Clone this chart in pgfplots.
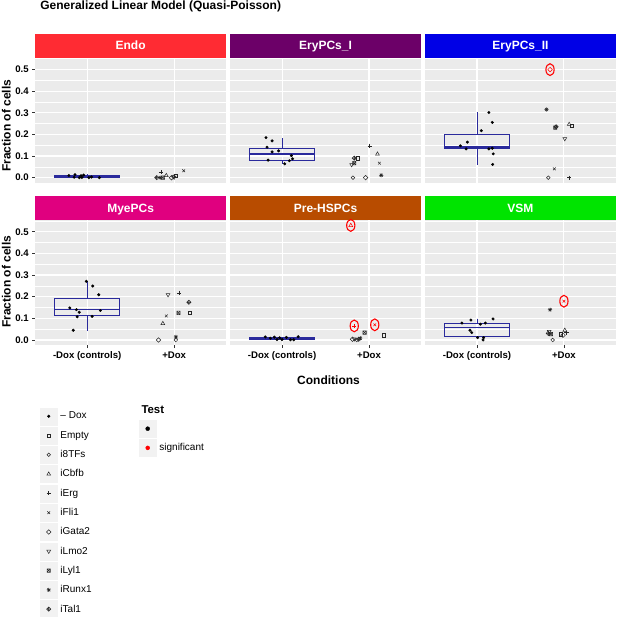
\documentclass[border=0pt]{standalone}
\usepackage{pgfplots}
\pgfplotsset{compat=1.18}
\usepackage{fontspec}
\setmainfont{Liberation Sans}
\definecolor{panelbg}{HTML}{EBEBEB}
\definecolor{keybg}{HTML}{F2F2F2}
\definecolor{boxc}{HTML}{2A2A9C}
\definecolor{cEndo}{HTML}{FF2B33}
\definecolor{cEryI}{HTML}{6C0068}
\definecolor{cEryII}{HTML}{0000E6}
\definecolor{cMye}{HTML}{E0007F}
\definecolor{cPre}{HTML}{B84C00}
\definecolor{cVSM}{HTML}{00E400}
\definecolor{mk}{HTML}{262626}

\pgfdeclareplotmark{sqx}{%
 \pgfpathrectangle{\pgfpoint{-\pgfplotmarksize}{-\pgfplotmarksize}}{\pgfpoint{2\pgfplotmarksize}{2\pgfplotmarksize}}%
 \pgfpathmoveto{\pgfpoint{-\pgfplotmarksize}{-\pgfplotmarksize}}\pgfpathlineto{\pgfpoint{\pgfplotmarksize}{\pgfplotmarksize}}%
 \pgfpathmoveto{\pgfpoint{-\pgfplotmarksize}{\pgfplotmarksize}}\pgfpathlineto{\pgfpoint{\pgfplotmarksize}{-\pgfplotmarksize}}%
 \pgfusepathqstroke}
\pgfdeclareplotmark{ast8}{%
 \pgfpathmoveto{\pgfpoint{-\pgfplotmarksize}{0pt}}\pgfpathlineto{\pgfpoint{\pgfplotmarksize}{0pt}}%
 \pgfpathmoveto{\pgfpoint{0pt}{-\pgfplotmarksize}}\pgfpathlineto{\pgfpoint{0pt}{\pgfplotmarksize}}%
 \pgfpathmoveto{\pgfpoint{-0.707\pgfplotmarksize}{-0.707\pgfplotmarksize}}\pgfpathlineto{\pgfpoint{0.707\pgfplotmarksize}{0.707\pgfplotmarksize}}%
 \pgfpathmoveto{\pgfpoint{-0.707\pgfplotmarksize}{0.707\pgfplotmarksize}}\pgfpathlineto{\pgfpoint{0.707\pgfplotmarksize}{-0.707\pgfplotmarksize}}%
 \pgfusepathqstroke}
\pgfdeclareplotmark{diaplus}{%
 \pgfpathmoveto{\pgfpoint{0pt}{1.35\pgfplotmarksize}}\pgfpathlineto{\pgfpoint{1.35\pgfplotmarksize}{0pt}}%
 \pgfpathlineto{\pgfpoint{0pt}{-1.35\pgfplotmarksize}}\pgfpathlineto{\pgfpoint{-1.35\pgfplotmarksize}{0pt}}\pgfpathclose
 \pgfpathmoveto{\pgfpoint{-1.35\pgfplotmarksize}{0pt}}\pgfpathlineto{\pgfpoint{1.35\pgfplotmarksize}{0pt}}%
 \pgfpathmoveto{\pgfpoint{0pt}{-1.35\pgfplotmarksize}}\pgfpathlineto{\pgfpoint{0pt}{1.35\pgfplotmarksize}}%
 \pgfusepathqstroke}
\pgfdeclareplotmark{ell}{%
 \pgfpathellipse{\pgfpointorigin}{\pgfpoint{4.1pt}{0pt}}{\pgfpoint{0pt}{5.9pt}}%
 \pgfusepathqstroke}

\tikzset{
 dox/.style={mark=*, mark size=1.3pt, color=black},
 tEmpty/.style={mark=square, mark size=1.7pt, color=mk, line width=0.5pt},
 t8TFs/.style={mark=o, mark size=1.8pt, color=mk, line width=0.5pt},
 tCbfb/.style={mark=triangle, mark size=2.2pt, color=mk, line width=0.5pt},
 tErg/.style={mark=+, mark size=2.1pt, color=mk, line width=0.5pt},
 tFli1/.style={mark=x, mark size=1.9pt, color=mk, line width=0.5pt},
 tGata2/.style={mark=square, mark size=1.6pt, mark options={rotate=45}, color=mk, line width=0.5pt},
 tLmo2/.style={mark=triangle, mark size=2.2pt, mark options={rotate=180}, color=mk, line width=0.5pt},
 tLyl1/.style={mark=sqx, mark size=1.7pt, color=mk, line width=0.5pt},
 tRunx1/.style={mark=ast8, mark size=2.1pt, color=mk, line width=0.5pt},
 tTal1/.style={mark=diaplus, mark size=1.6pt, color=mk, line width=0.5pt},
 sigell/.style={mark=ell, color=red, line width=1.1pt},
 tdot/.style={mark=*, mark size=2pt, color=black},
 sdot/.style={mark=*, mark size=2pt, color=red},
 stripfont/.style={font=\fontsize{12}{14}\selectfont\bfseries, text=white, anchor=base},
}

\pgfplotsset{
 panel/.style={
  anchor=south west, scale only axis, width=191.3pt, height=125.6pt,
  xmin=0.4, xmax=2.6, ymin=-0.0255, ymax=0.5545,
  axis background/.style={fill=panelbg, draw=none},
  axis line style={draw=none},
  xtick={1,2}, ytick={0,0.1,0.2,0.3,0.4,0.5},
  minor ytick={0.05,0.15,0.25,0.35,0.45,0.55},
  xmajorgrids=true, ymajorgrids=true, yminorgrids=true,
  major grid style={white, line width=1.1pt},
  minor grid style={white, line width=0.55pt},
  tick align=outside, major tick length=2.75pt, minor tick length=0pt,
  tick style={color=black!80, line width=0.55pt},
  tick pos=left,
  ticklabel style={font=\fontsize{9.6}{11}\selectfont\bfseries},
  /pgf/number format/assume math mode=true,
  yticklabel style={/pgf/number format/.cd, fixed, fixed zerofill, precision=1},
  clip=false,
 },
 toprow/.style={xtick style={draw=none}, xticklabels={}},
 botrow/.style={xticklabels={-Dox (controls),+Dox}},
 notleft/.style={ytick style={draw=none}, yticklabels={}},
 bx/.style={color=boxc, line width=0.8pt, line join=miter, line cap=rect, no marks},
 bmed/.style={color=boxc, line width=1.5pt, no marks},
}

\begin{document}
\begin{tikzpicture}[x=1pt,y=1pt]
\useasboundingbox (0,0) rectangle (617,617);
\node[anchor=base west, font=\fontsize{12}{14}\selectfont\bfseries] at (36.8,607.4) {Generalized Linear Model (Quasi-Poisson)};
\node[rotate=90, anchor=base, font=\fontsize{12}{14}\selectfont\bfseries] at (10.7,491.2) {Fraction of cells};
\node[rotate=90, anchor=base, font=\fontsize{12}{14}\selectfont\bfseries] at (10.7,335.3) {Fraction of cells};
\node[anchor=base, font=\fontsize{12}{14}\selectfont\bfseries] at (328.5,232) {Conditions};

% ---------------- Endo
\begin{axis}[panel, toprow, at={(35pt,433.8pt)}]
\addplot[bx] coordinates {(0.625,0) (1.375,0) (1.375,0.010) (0.625,0.010) (0.625,0)};
\addplot[bx] coordinates {(1,0.010) (1,0.015)};
\addplot[bmed] coordinates {(0.625,0.002) (1.375,0.002)};
\addplot[only marks, dox] coordinates {(0.79,0.010) (0.86,0.014) (0.93,0.009) (0.94,0.001) (0.91,0.0) (1.02,0.0) (1.14,0.0) (0.85,0.002) (1.05,0.003) (0.96,0.012)};
\addplot[only marks, tErg] coordinates {(1.85,0.025)};
\addplot[only marks, tTal1] coordinates {(1.80,0.0)};
\addplot[only marks, tRunx1] coordinates {(1.84,0.0)};
\addplot[only marks, tLyl1] coordinates {(1.87,0.0)};
\addplot[only marks, tCbfb] coordinates {(1.91,0.010)};
\addplot[only marks, tGata2] coordinates {(1.97,0.0)};
\addplot[only marks, t8TFs] coordinates {(1.99,0.004)};
\addplot[only marks, tEmpty] coordinates {(2.02,0.009)};
\addplot[only marks, tLmo2] coordinates {(2.00,0.002)};
\addplot[only marks, tFli1] coordinates {(2.11,0.032)};
\fill[cEndo] (rel axis cs:0,1) rectangle ([yshift=23.8pt]rel axis cs:1,1);
\node[stripfont] at ([yshift=7.6pt]rel axis cs:0.5,1) {Endo};
\end{axis}

% ---------------- EryPCs_I
\begin{axis}[panel, toprow, notleft, at={(229.9pt,433.8pt)}]
\addplot[bx] coordinates {(0.625,0.081) (1.375,0.081) (1.375,0.136) (0.625,0.136) (0.625,0.081)};
\addplot[bx] coordinates {(1,0.136) (1,0.183)};
\addplot[bx] coordinates {(1,0.081) (1,0.064)};
\addplot[bmed] coordinates {(0.625,0.109) (1.375,0.109)};
\addplot[only marks, dox] coordinates {(0.815,0.185) (0.885,0.170) (0.827,0.141) (0.885,0.119) (0.96,0.124) (1.107,0.102) (1.12,0.087) (1.084,0.078) (1.03,0.064) (0.84,0.081)};
\addplot[only marks, tErg] coordinates {(2.008,0.147)};
\addplot[only marks, tCbfb] coordinates {(2.097,0.109)};
\addplot[only marks, tTal1] coordinates {(1.83,0.090)};
\addplot[only marks, tEmpty] coordinates {(1.87,0.090)};
\addplot[only marks, tLmo2] coordinates {(1.80,0.060)};
\addplot[only marks, tLyl1] coordinates {(1.83,0.067)};
\addplot[only marks, tFli1] coordinates {(2.12,0.067)};
\addplot[only marks, t8TFs] coordinates {(1.815,0.0)};
\addplot[only marks, tGata2] coordinates {(1.96,0.0)};
\addplot[only marks, tRunx1] coordinates {(2.14,0.011)};
\fill[cEryI] (rel axis cs:0,1) rectangle ([yshift=23.8pt]rel axis cs:1,1);
\node[stripfont] at ([yshift=7.6pt]rel axis cs:0.5,1) {EryPCs\_I};
\end{axis}

% ---------------- EryPCs_II
\begin{axis}[panel, toprow, notleft, at={(424.8pt,433.8pt)}]
\addplot[bx] coordinates {(0.625,0.133) (1.375,0.133) (1.375,0.202) (0.625,0.202) (0.625,0.133)};
\addplot[bx] coordinates {(1,0.202) (1,0.301)};
\addplot[bx] coordinates {(1,0.133) (1,0.061)};
\addplot[bmed] coordinates {(0.625,0.142) (1.375,0.142)};
\addplot[only marks, dox] coordinates {(1.137,0.301) (1.176,0.255) (1.05,0.217) (0.89,0.164) (0.81,0.147) (0.875,0.133) (1.137,0.133) (1.176,0.136) (1.187,0.110) (1.18,0.061)};
\addplot[only marks, tRunx1] coordinates {(1.80,0.315)};
\addplot[only marks, tLyl1] coordinates {(1.90,0.231)};
\addplot[only marks, tTal1] coordinates {(1.91,0.235)};
\addplot[only marks, tCbfb] coordinates {(2.06,0.246)};
\addplot[only marks, tEmpty] coordinates {(2.09,0.239)};
\addplot[only marks, tLmo2] coordinates {(2.01,0.180)};
\addplot[only marks, tFli1] coordinates {(1.89,0.041)};
\addplot[only marks, t8TFs] coordinates {(1.82,0.0)};
\addplot[only marks, tErg] coordinates {(2.06,0.0)};
\addplot[only marks, tGata2, color=red] coordinates {(1.84,0.499)};
\addplot[only marks, sigell] coordinates {(1.84,0.499)};
\fill[cEryII] (rel axis cs:0,1) rectangle ([yshift=23.8pt]rel axis cs:1,1);
\node[stripfont] at ([yshift=7.6pt]rel axis cs:0.5,1) {EryPCs\_II};
\end{axis}

% ---------------- MyePCs
\begin{axis}[panel, botrow, at={(35pt,271.5pt)}]
\addplot[bx] coordinates {(0.625,0.115) (1.375,0.115) (1.375,0.190) (0.625,0.190) (0.625,0.115)};
\addplot[bx] coordinates {(1,0.190) (1,0.272)};
\addplot[bx] coordinates {(1,0.115) (1,0.045)};
\addplot[bmed] coordinates {(0.625,0.140) (1.375,0.140)};
\addplot[only marks, dox] coordinates {(0.99,0.271) (1.064,0.249) (1.133,0.209) (0.80,0.148) (0.877,0.140) (0.908,0.128) (0.885,0.107) (1.057,0.109) (1.152,0.136) (0.84,0.045)};
\addplot[only marks, tLmo2] coordinates {(1.93,0.209)};
\addplot[only marks, tErg] coordinates {(2.06,0.218)};
\addplot[only marks, tTal1] coordinates {(2.17,0.174)};
\addplot[only marks, tLyl1] coordinates {(2.05,0.125)};
\addplot[only marks, tEmpty] coordinates {(2.18,0.126)};
\addplot[only marks, tFli1] coordinates {(1.91,0.111)};
\addplot[only marks, tCbfb] coordinates {(1.87,0.076)};
\addplot[only marks, tGata2] coordinates {(1.82,0.0)};
\addplot[only marks, tRunx1] coordinates {(2.02,0.014)};
\addplot[only marks, t8TFs] coordinates {(2.02,0.0)};
\fill[cMye] (rel axis cs:0,1) rectangle ([yshift=23.8pt]rel axis cs:1,1);
\node[stripfont] at ([yshift=7.6pt]rel axis cs:0.5,1) {MyePCs};
\end{axis}

% ---------------- Pre-HSPCs
\begin{axis}[panel, botrow, notleft, at={(229.9pt,271.5pt)}]
\addplot[bx] coordinates {(0.625,0.0015) (1.375,0.0015) (1.375,0.0125) (0.625,0.0125) (0.625,0.0015)};
\addplot[bmed] coordinates {(0.625,0.006) (1.375,0.006)};
\addplot[only marks, dox] coordinates {(0.807,0.014) (0.865,0.008) (0.911,0.013) (0.942,0.002) (1.0,0.002) (1.05,0.012) (1.096,0.001) (1.134,0.001) (1.185,0.015) (0.972,0.010)};
\addplot[only marks, tLyl1] coordinates {(1.95,0.034)};
\addplot[only marks, tEmpty] coordinates {(2.17,0.022)};
\addplot[only marks, tGata2] coordinates {(1.81,0.003)};
\addplot[only marks, tTal1] coordinates {(1.88,0.003)};
\addplot[only marks, tRunx1] coordinates {(1.90,0.008)};
\addplot[only marks, t8TFs] coordinates {(1.86,0.0)};
\addplot[only marks, tLmo2] coordinates {(1.83,0.005)};
\addplot[only marks, tCbfb, color=red] coordinates {(1.79,0.529)};
\addplot[only marks, tErg, color=red] coordinates {(1.83,0.065)};
\addplot[only marks, tFli1, color=red] coordinates {(2.066,0.070)};
\addplot[only marks, sigell] coordinates {(1.79,0.529) (1.83,0.065) (2.066,0.070)};
\fill[cPre] (rel axis cs:0,1) rectangle ([yshift=23.8pt]rel axis cs:1,1);
\node[stripfont] at ([yshift=7.6pt]rel axis cs:0.5,1) {Pre-HSPCs};
\end{axis}

% ---------------- VSM
\begin{axis}[panel, botrow, notleft, at={(424.8pt,271.5pt)}]
\addplot[bx] coordinates {(0.625,0.015) (1.375,0.015) (1.375,0.078) (0.625,0.078) (0.625,0.015)};
\addplot[bx] coordinates {(1,0.078) (1,0.097)};
\addplot[bmed] coordinates {(0.625,0.058) (1.375,0.058)};
\addplot[only marks, dox] coordinates {(0.827,0.078) (0.93,0.092) (1.04,0.073) (1.096,0.078) (1.185,0.097) (0.92,0.045) (0.94,0.034) (1.007,0.011) (1.076,0.011) (1.07,0.0)};
\addplot[only marks, tRunx1] coordinates {(1.84,0.140)};
\addplot[only marks, tLmo2] coordinates {(1.83,0.039)};
\addplot[only marks, tTal1] coordinates {(1.82,0.030)};
\addplot[only marks, tLyl1] coordinates {(1.85,0.027)};
\addplot[only marks, t8TFs] coordinates {(1.87,0.0)};
\addplot[only marks, tCbfb] coordinates {(2.01,0.045)};
\addplot[only marks, tErg] coordinates {(2.03,0.034)};
\addplot[only marks, tEmpty] coordinates {(1.96,0.027)};
\addplot[only marks, tGata2] coordinates {(1.99,0.022)};
\addplot[only marks, tFli1, color=red] coordinates {(2.0,0.179)};
\addplot[only marks, sigell] coordinates {(2.0,0.179)};
\fill[cVSM] (rel axis cs:0,1) rectangle ([yshift=23.8pt]rel axis cs:1,1);
\node[stripfont] at ([yshift=7.6pt]rel axis cs:0.5,1) {VSM};
\end{axis}

% ---------------- legend: treatments
\begin{axis}[at={(0pt,0pt)}, anchor=south west, scale only axis, width=617pt, height=617pt, hide axis, xmin=0, xmax=1, ymin=0, ymax=1,
 legend style={at={(0.0648,0.3395)}, anchor=north west, draw=none, fill=none, inner sep=0pt, outer sep=0pt, row sep=1.8pt, column sep=3pt, font=\fontsize{10}{12}\selectfont, nodes={inner sep=0pt}},
 legend cell align=left,
 legend image code/.code={\fill[keybg] (-8.5pt,-8.5pt) rectangle (8.5pt,8.5pt); \draw[#1] plot coordinates {(0pt,0pt)};}]
\addlegendimage{dox}\addlegendentry{– Dox}
\addlegendimage{tEmpty}\addlegendentry{Empty}
\addlegendimage{t8TFs}\addlegendentry{i8TFs}
\addlegendimage{tCbfb}\addlegendentry{iCbfb}
\addlegendimage{tErg}\addlegendentry{iErg}
\addlegendimage{tFli1}\addlegendentry{iFli1}
\addlegendimage{tGata2}\addlegendentry{iGata2}
\addlegendimage{tLmo2}\addlegendentry{iLmo2}
\addlegendimage{tLyl1}\addlegendentry{iLyl1}
\addlegendimage{tRunx1}\addlegendentry{iRunx1}
\addlegendimage{tTal1}\addlegendentry{iTal1}
\end{axis}

% ---------------- legend: Test
\node[anchor=base west, font=\fontsize{11.4}{13}\selectfont\bfseries] at (138,203.7) {Test};
\begin{axis}[at={(0pt,0pt)}, anchor=south west, scale only axis, width=617pt, height=617pt, hide axis, xmin=0, xmax=1, ymin=0, ymax=1,
 legend style={at={(0.2253,0.3193)}, anchor=north west, draw=none, fill=none, inner sep=0pt, outer sep=0pt, row sep=1.8pt, column sep=3pt, font=\fontsize{10}{12}\selectfont, nodes={inner sep=0pt}},
 legend cell align=left,
 legend image code/.code={\fill[keybg] (-8.5pt,-8.5pt) rectangle (8.5pt,8.5pt); \draw[#1] plot coordinates {(0pt,0pt)};}]
\addlegendimage{tdot}\addlegendentry{}
\addlegendimage{sdot}\addlegendentry{significant}
\end{axis}
\end{tikzpicture}
\end{document}
